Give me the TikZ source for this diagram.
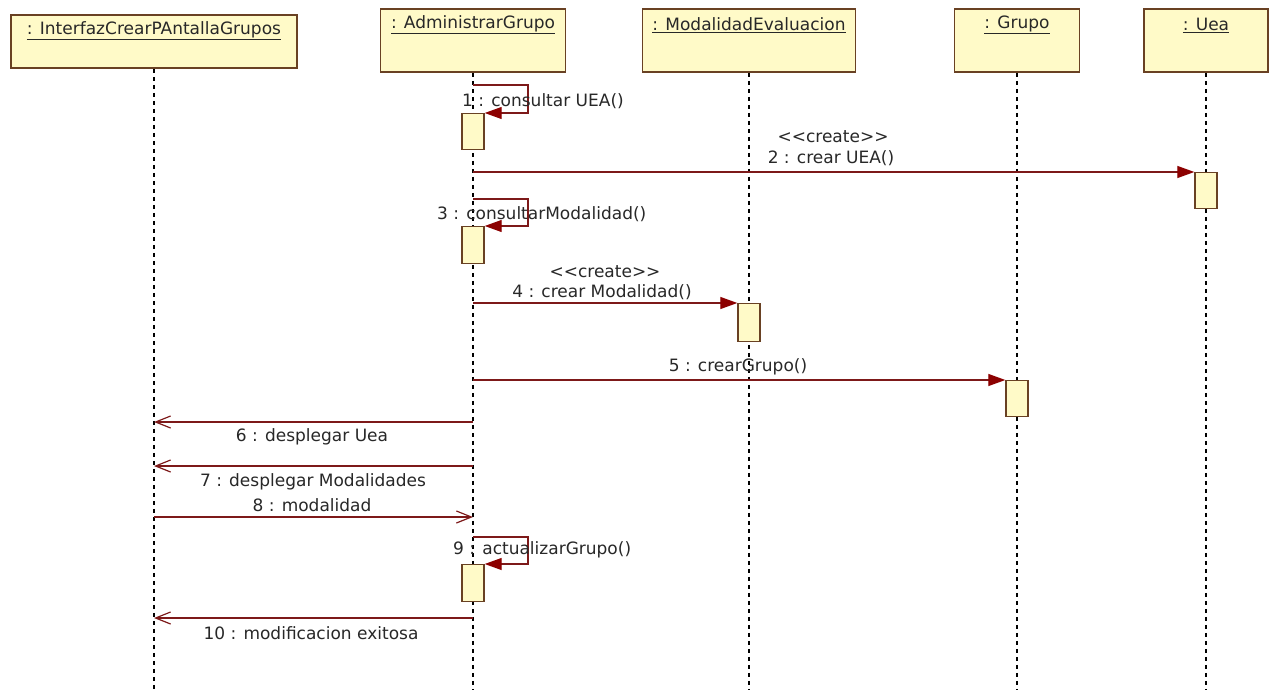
\documentclass[tikz,border=0pt]{standalone}
\usepackage{fontspec}
\setmainfont{DejaVu Sans}
\usetikzlibrary{arrows.meta}
\definecolor{boxfill}{RGB}{255,250,200}
\definecolor{boxdraw}{RGB}{105,65,35}
\definecolor{msgc}{RGB}{125,25,25}
\definecolor{headc}{RGB}{140,0,0}
\definecolor{txt}{RGB}{40,40,40}
\begin{document}
\begin{tikzpicture}[x=1pt,y=-1pt,
  objbox/.style={draw=boxdraw, fill=boxfill, line width=1.8pt, inner sep=0pt},
  objlabel/.style={font=\fontsize{17}{20}\selectfont, text=txt, inner sep=0pt},
  lifeline/.style={black, line width=2pt, dash pattern=on 4pt off 4pt},
  act/.style={draw=boxdraw, fill=boxfill, line width=1.4pt, minimum width=22pt, inner sep=0pt, anchor=north},
  call/.style={msgc, line width=1.2pt, -{Triangle[length=17pt,width=12pt,fill=headc,color=headc]}},
  reply/.style={msgc, line width=1.2pt, -{Straight Barb[length=15pt,width=12pt]}},
  lbl/.style={font=\fontsize{17}{20}\selectfont, text=txt, inner sep=0pt}]
\useasboundingbox (0,0) rectangle (1269,690);
\fill[white] (0,0) rectangle (1269,690);

% object boxes
\node[objbox, minimum width=286pt, minimum height=53pt] (o1) at (154,41.5) {};
\node[objbox, minimum width=185pt, minimum height=63pt] (o2) at (473,40.5) {};
\node[objbox, minimum width=213pt, minimum height=63pt] (o3) at (749,40.5) {};
\node[objbox, minimum width=125pt, minimum height=63pt] (o4) at (1017,40.5) {};
\node[objbox, minimum width=124pt, minimum height=63pt] (o5) at (1206,40.5) {};

\node[objlabel] at (154,31) {\underline{: InterfazCrearPAntallaGrupos}};
\node[objlabel] at (473,25) {\underline{: AdministrarGrupo}};
\node[objlabel] at (749,25) {\underline{: ModalidadEvaluacion}};
\node[objlabel] at (1017,25) {\underline{: Grupo}};
\node[objlabel] at (1206,25) {\underline{: Uea}};

% lifeline ends
\coordinate (e1) at (154,690);
\coordinate (e2) at (473,690);
\coordinate (e3) at (749,690);
\coordinate (e4) at (1017,690);
\coordinate (e5) at (1206,690);
\draw[lifeline] (o1.south) -- (e1);
\draw[lifeline] (o2.south) -- (e2);
\draw[lifeline] (o3.south) -- (e3);
\draw[lifeline] (o4.south) -- (e4);
\draw[lifeline] (o5.south) -- (e5);

% activations
\node[act, minimum height=36pt] (a1) at (473,113) {};
\node[act, minimum height=36pt] (a2) at (1206,172) {};
\node[act, minimum height=37pt] (a3) at (473,226) {};
\node[act, minimum height=38pt] (a4) at (749,303) {};
\node[act, minimum height=36pt] (a5) at (1017,380) {};
\node[act, minimum height=37pt] (a6) at (473,564) {};

% message start points
\coordinate (m1) at (473,85);
\coordinate (m2) at (473,172);
\coordinate (m3) at (473,199);
\coordinate (m4) at (473,303);
\coordinate (m5) at (473,380);
\coordinate (m6s) at (473,422);
\coordinate (m6e) at (154,422);
\coordinate (m7s) at (473,466);
\coordinate (m7e) at (154,466);
\coordinate (m8s) at (154,517);
\coordinate (m8e) at (473,517);
\coordinate (m9) at (473,537);
\coordinate (m10s) at (473,618);
\coordinate (m10e) at (154,618);

% messages
\draw[call] (m1) -- ++(55,0) |- (a1.north east);
\draw[call] (m2) -- (a2.north west);
\draw[call] (m3) -- ++(55,0) |- (a3.north east);
\draw[call] (m4) -- (a4.north west);
\draw[call] (m5) -- (a5.north west);
\draw[reply] (m6s) -- (m6e);
\draw[reply] (m7s) -- (m7e);
\draw[reply] (m8s) -- (m8e);
\draw[call] (m9) -- ++(55,0) |- (a6.north east);
\draw[reply] (m10s) -- (m10e);

% labels
\node[lbl, anchor=west] at (462,101) {1 : consultar UEA()};
\node[lbl] at (833,137) {<{}<create>{}>};
\node[lbl] at (831,158) {2 : crear UEA()};
\node[lbl, anchor=west] at (437,214) {3 : consultarModalidad()};
\node[lbl] at (605,272) {<{}<create>{}>};
\node[lbl] at (602,292) {4 : crear Modalidad()};
\node[lbl] at (738,367) {5 : crearGrupo()};
\node[lbl] at (312,437) {6 : desplegar Uea};
\node[lbl] at (313,482) {7 : desplegar Modalidades};
\node[lbl] at (312,505) {8 : modalidad};
\node[lbl, anchor=west] at (453,550) {9 : actualizarGrupo()};
\node[lbl] at (311,633) {10 : modificacion exitosa};
\end{tikzpicture}
\end{document}
